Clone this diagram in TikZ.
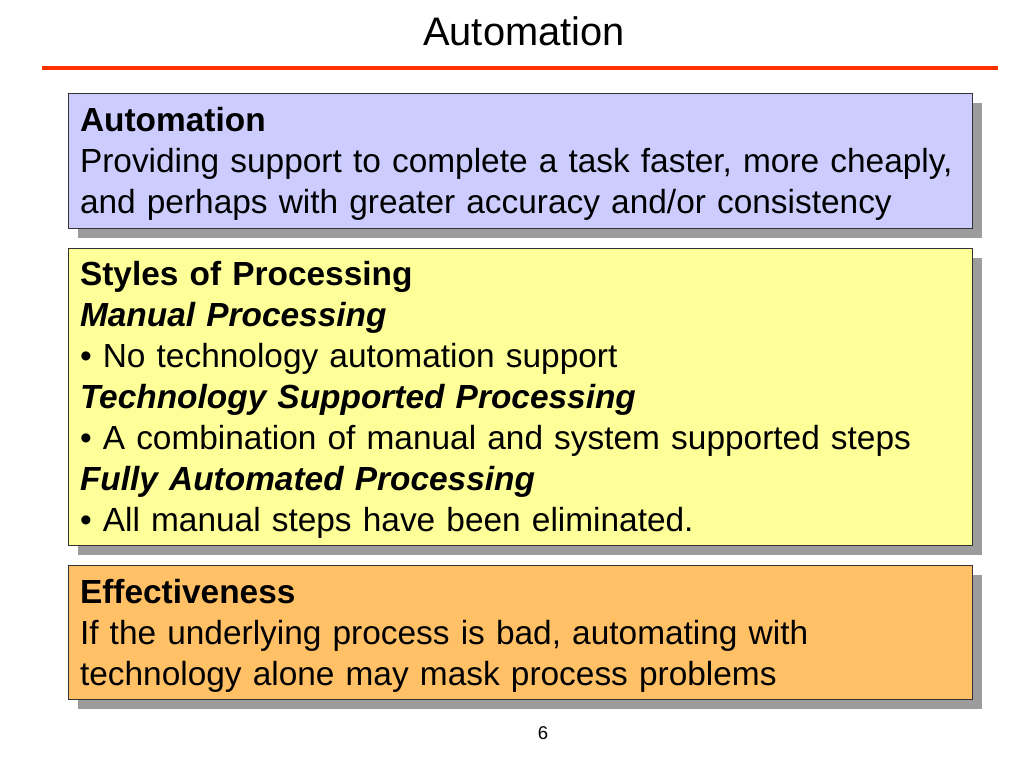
\documentclass[tikz,border=0pt]{standalone}
\usepackage{fontspec}
\setmainfont{Liberation Sans}
\usetikzlibrary{positioning, shadows}
\definecolor{boxlilac}{RGB}{204, 204, 255}
\definecolor{boxyellow}{RGB}{255, 255, 153}
\definecolor{boxorange}{RGB}{255, 192, 102}
\definecolor{rulered}{RGB}{255, 51, 0}
\definecolor{shadowgray}{RGB}{156, 156, 156}
\tikzset{
  slidebox/.style={draw=black!80, line width=0.7pt, anchor=north west,
    text width=619.4pt, inner xsep=8.1pt, inner ysep=0pt, align=left,
    font=\fontsize{23.5}{28.8}\selectfont,
    execute at begin node={\rule{0pt}{21.5pt}},
    drop shadow={shadow xshift=7pt, shadow yshift=-6.4pt, fill=shadowgray, opacity=1}},
}
\begin{document}
\begin{tikzpicture}[x=0.703125pt, y=-0.703125pt, node distance=13.4pt]
  \useasboundingbox (0,0) rectangle (1024,768);
  \node[anchor=base, font=\fontsize{28}{33.6}\selectfont] (title) at (524,46) {Automation};
  \coordinate (rulel) at (42,68);
  \coordinate (ruler) at (998,68);
  \draw[rulered, line width=2.8pt] (rulel) -- (ruler);

  \node[slidebox, fill=boxlilac, minimum height=94.9pt] (auto) at (68,93)
    {\textbf{Automation}\\
     Providing support to complete a task faster, more cheaply,\\
     and perhaps with greater accuracy and/or consistency};
  \node[slidebox, fill=boxyellow, minimum height=208.8pt, below=of auto] (styles)
    {\textbf{Styles of Processing}\\
     \textbf{\textit{Manual Processing}}\\
     • No technology automation support\\
     \textbf{\textit{Technology Supported Processing}}\\
     • A combination of manual and system supported steps\\
     \textbf{\textit{Fully Automated Processing}}\\
     • All manual steps have been eliminated.};
  \node[slidebox, fill=boxorange, minimum height=94.2pt, below=of styles] (effect)
    {\textbf{Effectiveness}\\
     If the underlying process is bad, automating with\\
     technology alone may mask process problems};

  \node[anchor=base, font=\fontsize{13}{15.6}\selectfont] (pagenum) at (543,739) {6};
\end{tikzpicture}
\end{document}
